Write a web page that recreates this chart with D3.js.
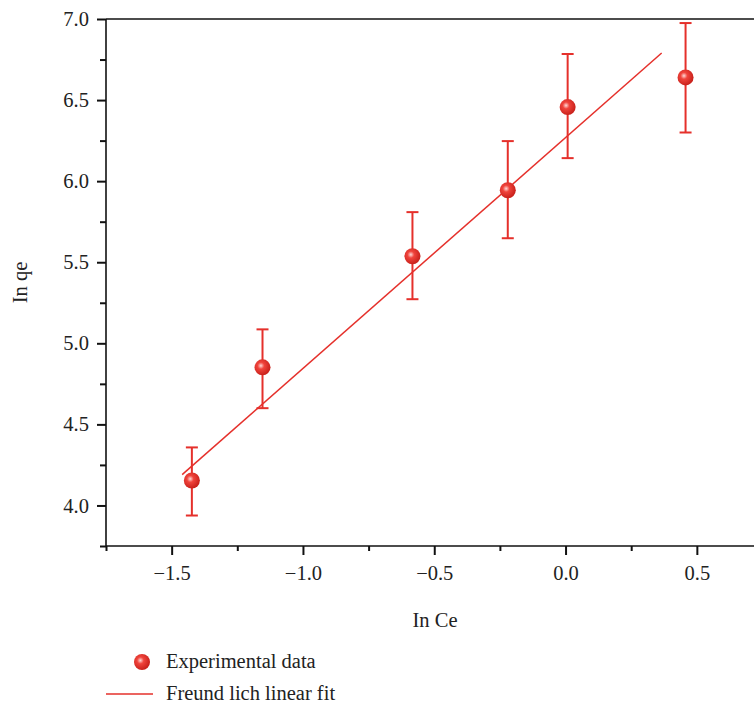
<!DOCTYPE html>
<html>
<head>
<meta charset="utf-8">
<script src="https://cdn.jsdelivr.net/npm/d3@7"></script>
<style>
  body { margin: 0; background: #fff; }
  svg { display: block; }
  svg text { font-family: "Liberation Serif", "DejaVu Serif", serif; }
</style>
</head>
<body>
<svg id="chart" width="754" height="707"></svg>
<script>
// experimental points (ln Ce, ln qe) with error bar limits
var lnCe = [-1.423, -1.154, -0.583, -0.22, 0.008, 0.457]
var lnQe = [4.154, 4.852, 5.537, 5.944, 6.457, 6.64]
var errLow = [3.938, 4.60, 5.272, 5.648, 6.142, 6.30]
var errHigh = [4.358, 5.086, 5.809, 6.247, 6.784, 6.975]

// linear fit end points
var fitX = [-1.46, 0.366]
var fitY = [4.19, 6.79]

var xTicks = [-1.5, -1.0, -0.5, 0.0, 0.5]
var yTicks = [4.0, 4.5, 5.0, 5.5, 6.0, 6.5, 7.0]

var red = "#e5302b"
var fs = 20.5

var svg = d3.select("#chart")

var x = d3.scaleLinear().domain([-1.75, 0.75]).range([106, 762.5])
var y = d3.scaleLinear().domain([3.75, 7.0]).range([546, 19])

var defs = svg.append("defs")
var grad = defs.append("radialGradient")
    .attr("id", "ball")
    .attr("cx", "40%").attr("cy", "40%").attr("r", "60%")
grad.append("stop").attr("offset", "0%").attr("stop-color", "#ffd9d6")
grad.append("stop").attr("offset", "35%").attr("stop-color", "#f0443c")
grad.append("stop").attr("offset", "100%").attr("stop-color", "#c9211b")

var fmt = function(d) { return d3.format(".1f")(d).replace("-", "\u2212") }

// axes
var xAxis = d3.axisBottom(x).tickValues(xTicks).tickSize(9).tickFormat(fmt)
var yAxis = d3.axisLeft(y).tickValues(yTicks).tickSize(9).tickFormat(fmt)

var gx = svg.append("g").attr("transform", "translate(0," + y(3.75) + ")").call(xAxis)
var gy = svg.append("g").attr("transform", "translate(" + x(-1.75) + ",0)").call(yAxis)

// minor ticks
var xMinor = d3.axisBottom(x).tickValues([-1.75, -1.25, -0.75, -0.25, 0.25, 0.75]).tickSize(5).tickFormat("")
var yMinor = d3.axisLeft(y).tickValues([3.75, 4.25, 4.75, 5.25, 5.75, 6.25, 6.75]).tickSize(6).tickFormat("")
svg.append("g").attr("transform", "translate(0," + y(3.75) + ")").call(xMinor)
svg.append("g").attr("transform", "translate(" + x(-1.75) + ",0)").call(yMinor)

svg.selectAll("g").attr("font-family", null).attr("font-size", null)
svg.selectAll(".domain").remove()
svg.selectAll(".tick line").attr("stroke", "#111").attr("stroke-width", 2)
gx.selectAll("text").style("font-family", "'Liberation Serif', serif").style("font-size", fs + "px")
    .attr("fill", "#222").attr("dy", "1.05em")
gy.selectAll("text").style("font-family", "'Liberation Serif', serif").style("font-size", fs + "px")
    .attr("fill", "#222").attr("dx", "-0.25em")

// frame lines: left, bottom, top
svg.append("line").attr("x1", x(-1.75)).attr("x2", x(-1.75)).attr("y1", y(3.75)).attr("y2", y(7.0))
    .attr("stroke", "#111").attr("stroke-width", 1.6)
svg.append("line").attr("x1", x(-1.75)).attr("x2", 754).attr("y1", y(3.75)).attr("y2", y(3.75))
    .attr("stroke", "#111").attr("stroke-width", 1.6)
svg.append("line").attr("x1", x(-1.75)).attr("x2", 754).attr("y1", y(7.0)).attr("y2", y(7.0))
    .attr("stroke", "#111").attr("stroke-width", 1.6)

// axis titles
svg.append("text")
    .attr("x", 435).attr("y", 627)
    .attr("text-anchor", "middle").attr("font-size", fs).attr("fill", "#222")
    .text("In Ce")
svg.append("text")
    .attr("transform", "translate(27," + ((y(3.75) + y(7.0)) / 2) + ") rotate(-90)")
    .attr("text-anchor", "middle").attr("font-size", fs).attr("fill", "#222")
    .text("In qe")

// fit line
svg.append("line")
    .attr("x1", x(fitX[0])).attr("y1", y(fitY[0]))
    .attr("x2", x(fitX[1])).attr("y2", y(fitY[1]))
    .attr("stroke", red).attr("stroke-width", 1.5)

// error bars
var pts = lnCe.map(function(d, i) {
    return { x: d, y: lnQe[i], lo: errLow[i], hi: errHigh[i] }
})

var eb = svg.append("g").selectAll("g").data(pts).enter().append("g")
eb.append("line")
    .attr("x1", function(d) { return x(d.x) }).attr("x2", function(d) { return x(d.x) })
    .attr("y1", function(d) { return y(d.lo) }).attr("y2", function(d) { return y(d.hi) })
    .attr("stroke", red).attr("stroke-width", 2)
eb.append("line")
    .attr("x1", function(d) { return x(d.x) - 6 }).attr("x2", function(d) { return x(d.x) + 6 })
    .attr("y1", function(d) { return y(d.lo) }).attr("y2", function(d) { return y(d.lo) })
    .attr("stroke", red).attr("stroke-width", 2)
eb.append("line")
    .attr("x1", function(d) { return x(d.x) - 6 }).attr("x2", function(d) { return x(d.x) + 6 })
    .attr("y1", function(d) { return y(d.hi) }).attr("y2", function(d) { return y(d.hi) })
    .attr("stroke", red).attr("stroke-width", 2)
eb.append("circle")
    .attr("cx", function(d) { return x(d.x) }).attr("cy", function(d) { return y(d.y) })
    .attr("r", 8)
    .attr("fill", "url(#ball)")

// legend
var lg = svg.append("g")
lg.append("circle").attr("cx", 142).attr("cy", 662).attr("r", 8).attr("fill", "url(#ball)")
lg.append("text").attr("x", 166).attr("y", 668).attr("font-size", fs).attr("fill", "#222")
    .text("Experimental data")
lg.append("line").attr("x1", 106).attr("x2", 153).attr("y1", 694).attr("y2", 694)
    .attr("stroke", red).attr("stroke-width", 1.6)
lg.append("text").attr("x", 166).attr("y", 700).attr("font-size", fs).attr("fill", "#222")
    .text("Freund lich linear fit")
</script>
</body>
</html>
